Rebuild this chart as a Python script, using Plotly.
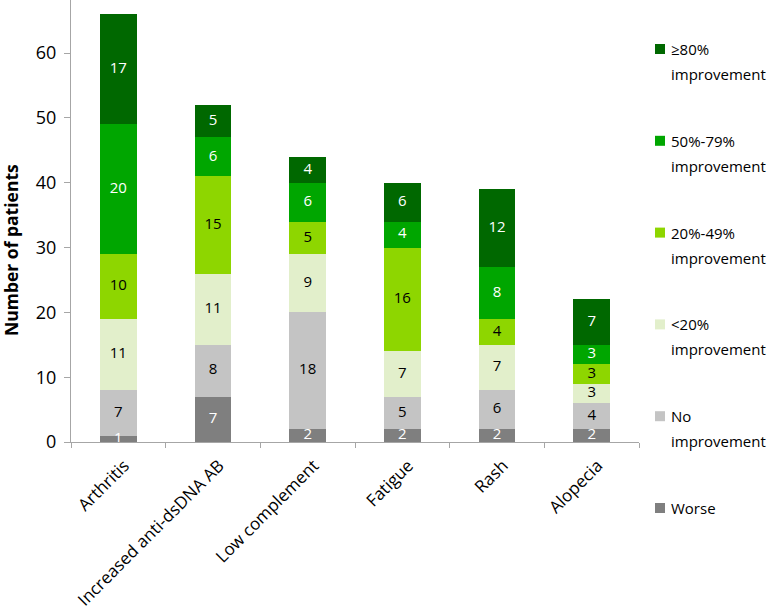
import plotly.graph_objects as go

# ---------------- data ----------------
categories = ["Arthritis", "Increased anti-dsDNA AB", "Low complement",
              "Fatigue", "Rash", "Alopecia"]

series_names = ["Worse", "No improvement", "<20% improvement",
                "20%-49% improvement", "50%-79% improvement", "≥80% improvement"]

worse          = [1, 7, 2, 2, 2, 2]
no_improvement = [7, 8, 18, 5, 6, 4]
lt20           = [11, 11, 9, 7, 7, 3]
p20_49         = [10, 15, 5, 16, 4, 3]
p50_79         = [20, 6, 6, 4, 8, 3]
ge80           = [17, 5, 4, 6, 12, 7]

y_ticks = [0, 10, 20, 30, 40, 50, 60]

# legend text (top to bottom, as in the reference)
legend_lines = [["≥80%", "improvement"],
                ["50%-79%", "improvement"],
                ["20%-49%", "improvement"],
                ["<20%", "improvement"],
                ["No", "improvement"],
                ["Worse"]]

# ---------------- styles ----------------
series_values = [worse, no_improvement, lt20, p20_49, p50_79, ge80]
colors = ["#7F7F7F", "#C4C4C4", "#E2EFCB", "#8ED600", "#00A600", "#006800"]
text_colors = ["white", "black", "black", "black", "white", "white"]
FONT = "Open Sans"

W, H = 777, 609
L, R, T, B = 71, 138, 0, 167
PW, PH = W - L - R, H - T - B

def px_x(px):
    return (px - L) / PW

def px_y(py):
    return (H - B - py) / PH

fig = go.Figure()
for name, vals, col in zip(series_names, series_values, colors):
    fig.add_trace(go.Bar(
        x=categories, y=vals, name=name,
        marker=dict(color=col, line=dict(width=0)),
        width=0.39, showlegend=False, hoverinfo="x+y+name",
    ))

# value labels centred in each segment (positions derived from the data)
base = [0] * len(categories)
for name, vals, tcol in zip(series_names, series_values, text_colors):
    mids = [b + v / 2 for b, v in zip(base, vals)]
    fig.add_trace(go.Scatter(
        x=categories, y=mids, mode="text", text=[str(v) for v in vals],
        textposition="middle center",
        textfont=dict(family=FONT, size=15, color=tcol),
        showlegend=False, hoverinfo="skip", cliponaxis=False,
    ))
    base = [b + v for b, v in zip(base, vals)]

# legend drawn at the right, matching reference layout
legend_colors = list(reversed(colors))
y0 = 49
step = 91.8
shapes = []
annotations = []
for i, (lines, col) in enumerate(zip(legend_lines, legend_colors)):
    cy = y0 + step * i
    shapes.append(dict(type="rect", xref="paper", yref="paper",
                       x0=px_x(655), x1=px_x(665),
                       y0=px_y(cy - 5), y1=px_y(cy + 5),
                       fillcolor=col, line=dict(width=0)))
    for j, line in enumerate(lines):
        annotations.append(dict(
            text=line, xref="paper", yref="paper",
            x=px_x(669), y=px_y(cy + 25 * j),
            xanchor="left", yanchor="middle", showarrow=False,
            font=dict(family=FONT, size=15, color="black")))

annotations.append(dict(
    text="<b>Number of patients</b>", xref="paper", yref="paper",
    x=px_x(11), y=px_y(250), textangle=-90, showarrow=False,
    xanchor="center", yanchor="middle",
    font=dict(family=FONT, size=17.5, color="black")))

fig.update_layout(
    barmode="stack",
    width=W, height=H,
    margin=dict(l=L, r=R, t=T, b=B, pad=0),
    paper_bgcolor="white", plot_bgcolor="white",
    shapes=shapes, annotations=annotations,
    font=dict(family=FONT, color="black"),
    xaxis=dict(
        showline=True, linecolor="#A6A6A6", linewidth=1,
        ticks="outside", tickson="boundaries", ticklen=5, tickcolor="#A6A6A6",
        tickangle=-45, tickfont=dict(family=FONT, size=17, color="black"),
        ticklabelstandoff=6, ticklabelshift=6,
        showgrid=False,
    ),
    yaxis=dict(
        range=[0, 68.2], tickvals=y_ticks,
        showline=True, linecolor="#A6A6A6", linewidth=1,
        ticks="outside", ticklen=6, tickcolor="#A6A6A6",
        tickfont=dict(family=FONT, size=18, color="black"),
        ticklabelstandoff=4,
        showgrid=False, zeroline=False,
    ),
)

fig.write_html("out.html",
               config={"displayModeBar": False},
               post_script="document.body.style.margin='0';document.body.style.overflow='hidden';")
